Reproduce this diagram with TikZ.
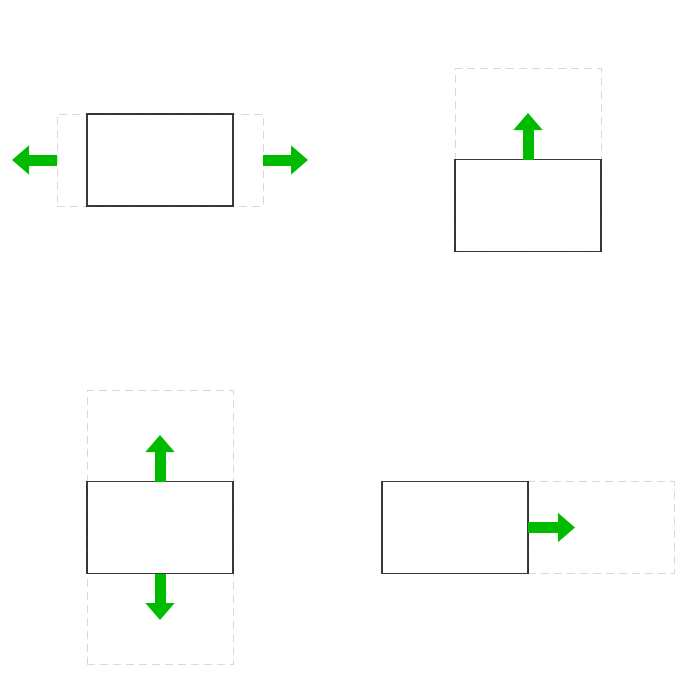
\documentclass[tikz,border=0pt]{standalone}
\usetikzlibrary{arrows.meta}
\definecolor{solidc}{HTML}{3A3A3A}
\definecolor{arrowc}{HTML}{00BB00}
\tikzset{
  box/.style={draw=solidc, line width=1.2pt, inner sep=0pt, outer sep=0pt, minimum width=146pt, minimum height=92pt},
  ghost/.style={draw=black, draw opacity=0.15, line width=1pt, dash pattern=on 8pt off 5pt, inner sep=0pt, outer sep=0pt, minimum width=146pt},
  garrow/.style={draw=arrowc, line width=11pt, -{Triangle[width=28pt,length=17pt]}, fill=arrowc}
}
\begin{document}
\begin{tikzpicture}[x=1pt,y=-1pt]
\useasboundingbox (0,0) rectangle (688,688);
% top-left: extend both sides
\node[box] (tl) at (160,160) {};
\node[ghost, minimum width=206pt, minimum height=92pt] (tlg) at (160,160) {};
\coordinate (tlL) at (12,160);
\coordinate (tlR) at (308,160);
\draw[garrow] (tlg.west) -- (tlL);
\draw[garrow] (tlg.east) -- (tlR);
% top-right: extend up
\node[box] (tr) at (528,205.5) {};
\node[ghost, minimum height=183pt] (trg) at (528,160) {};
\coordinate (trU) at (528,113);
\draw[garrow] (tr.north) -- (trU);
% bottom-left: extend up and down
\node[box] (bl) at (160,527.5) {};
\node[ghost, minimum height=274pt] (blg) at (160,527.5) {};
\coordinate (blU) at (160,435);
\coordinate (blD) at (160,620);
\draw[garrow] (bl.north) -- (blU);
\draw[garrow] (bl.south) -- (blD);
% bottom-right: extend right
\node[box] (br) at (455,527.5) {};
\node[ghost, minimum height=92pt] (brg) at (601,527.5) {};
\coordinate (brR) at (575,527.5);
\draw[garrow] (br.east) -- (brR);
\end{tikzpicture}
\end{document}
